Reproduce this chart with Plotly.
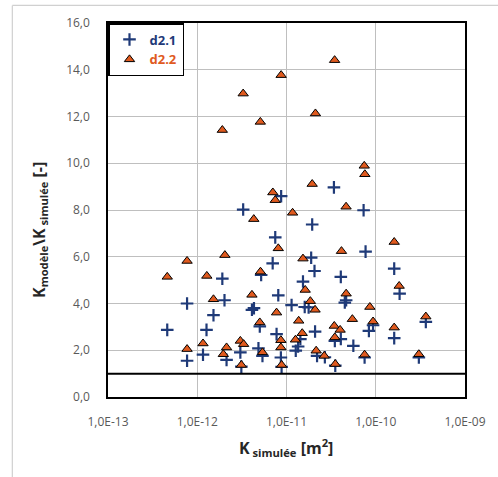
import plotly.graph_objects as go

# d2.1 (crosses)
k_d21 = [4.61e-13, 7.69e-13, 7.69e-13, 1.16e-12, 1.27e-12, 1.52e-12, 1.91e-12, 2.02e-12,
         2.13e-12, 3.04e-12, 3.12e-12, 4.10e-12, 4.32e-12, 5.02e-12, 4.85e-12, 5.20e-12,
         5.38e-12, 7.00e-12, 8.09e-12, 7.74e-12, 8.65e-12, 8.81e-12, 1.14e-11, 1.27e-11,
         1.35e-11, 1.43e-11, 1.53e-11, 1.60e-11, 1.77e-11, 1.89e-11, 2.06e-11, 2.09e-11,
         2.20e-11, 2.69e-11, 3.48e-11, 4.06e-11, 4.06e-11, 4.50e-11, 4.66e-11, 5.61e-11,
         7.69e-11, 7.50e-11, 8.38e-11, 9.33e-11, 1.61e-10, 1.61e-10, 1.85e-10, 3.04e-10,
         3.64e-10, 3.52e-11, 8.71e-12, 3.27e-12, 3.40e-11, 7.31e-11, 1.94e-11, 7.48e-12]
r_d21 = [2.87, 4.00, 1.55, 1.81, 2.87, 3.50, 5.06, 4.14,
         1.59, 1.91, 1.30, 3.73, 3.80, 3.02, 2.08, 5.22,
         1.76, 5.72, 4.35, 2.69, 1.69, 1.29, 3.93, 1.98,
         2.16, 2.48, 4.94, 3.85, 3.83, 5.96, 5.39, 2.80,
         1.76, 1.70, 2.40, 2.48, 5.14, 4.04, 4.14, 2.19,
         6.22, 1.69, 2.83, 3.07, 5.49, 2.52, 4.42, 1.69,
         3.21, 1.34, 8.59, 8.02, 8.97, 7.99, 7.38, 6.83]

# d2.2 (triangles)
k_d22 = [4.61e-13, 7.69e-13, 7.69e-13, 1.16e-12, 1.28e-12, 1.52e-12, 1.96e-12, 2.04e-12,
         2.13e-12, 3.04e-12, 3.31e-12, 3.12e-12, 4.10e-12, 5.02e-12, 5.11e-12, 5.38e-12,
         7.74e-12, 8.09e-12, 8.65e-12, 8.65e-12, 8.81e-12, 1.26e-11, 1.37e-11, 1.50e-11,
         1.53e-11, 1.62e-11, 1.85e-11, 2.09e-11, 2.15e-11, 2.65e-11, 3.43e-11, 3.48e-11,
         3.99e-11, 4.13e-11, 3.52e-11, 4.66e-11, 5.47e-11, 7.50e-11, 8.59e-11, 9.33e-11,
         1.61e-10, 1.61e-10, 1.83e-10, 3.04e-10, 3.64e-10, 3.46e-11, 8.71e-12, 3.27e-12,
         2.11e-11, 5.09e-12, 1.91e-12, 7.43e-11, 7.55e-11, 1.94e-11, 7.03e-12, 7.48e-12,
         4.65e-11, 1.17e-11, 4.30e-12]
r_d22 = [5.14, 5.82, 2.05, 2.29, 5.18, 4.18, 1.83, 6.07,
         2.12, 2.40, 2.26, 1.37, 4.37, 3.19, 5.36, 1.91,
         3.61, 6.36, 2.43, 2.12, 1.37, 2.45, 3.26, 2.73,
         5.92, 4.58, 4.10, 3.73, 1.98, 1.76, 3.04, 2.55,
         2.87, 6.24, 1.41, 4.42, 3.33, 1.81, 3.85, 3.23,
         6.63, 2.97, 4.75, 1.83, 3.44, 14.41, 13.77, 12.98,
         12.13, 11.77, 11.42, 9.89, 9.53, 9.11, 8.75, 8.42,
         8.14, 7.88, 7.61]

x_tickvals = [1e-13, 1e-12, 1e-11, 1e-10, 1e-9]
x_ticktext = ["1,0E-13", "1,0E-12", "1,0E-11", "1,0E-10", "1,0E-09"]
y_tickvals = [0, 2, 4, 6, 8, 10, 12, 14, 16]
y_ticktext = ["0,0", "2,0", "4,0", "6,0", "8,0", "10,0", "12,0", "14,0", "16,0"]

blue = "#1F3A78"
orange = "#E05A1E"
font = "Open Sans"

fig = go.Figure()
fig.add_trace(go.Scatter(
    x=k_d21, y=r_d21, mode="markers",
    name='<b><span style="color:%s">d2.1</span></b>' % blue,
    marker=dict(symbol="cross-thin", size=9, line=dict(color=blue, width=2.2), color=blue),
))
fig.add_trace(go.Scatter(
    x=k_d22, y=r_d22, mode="markers",
    name='<b><span style="color:%s">d2.2</span></b>' % orange,
    marker=dict(symbol="triangle-up", size=9, color=orange, line=dict(color="black", width=1)),
))

fig.add_shape(type="line", xref="paper", yref="y", x0=0, x1=1, y0=1, y1=1,
              line=dict(color="black", width=2))
# light outer frame
fig.add_shape(type="line", xref="paper", yref="paper", x0=-0.268, x1=1.2, y0=1.047, y1=1.047,
              line=dict(color="#D0D0D0", width=1.2))
fig.add_shape(type="line", xref="paper", yref="paper", x0=-0.268, x1=-0.268, y0=1.047, y1=-0.3,
              line=dict(color="#D0D0D0", width=1.2))

fig.add_annotation(xref="paper", yref="paper", x=-0.194, y=0.446, textangle=-90,
                   showarrow=False, xanchor="center", yanchor="middle",
                   text="<b>K<sub>modèle</sub>\\K<sub> simulée</sub> [-]</b>",
                   font=dict(family=font, size=16, color="#262626"))
fig.add_annotation(xref="paper", yref="paper", x=0.499, y=-0.134,
                   showarrow=False, xanchor="center", yanchor="middle",
                   text="<b>K<sub> simulée</sub> [m<sup>2</sup>]</b>",
                   font=dict(family=font, size=16, color="#262626"))

fig.update_layout(
    width=498, height=477,
    margin=dict(l=108, r=30, t=23, b=80),
    paper_bgcolor="white", plot_bgcolor="white",
    font=dict(family=font, size=12, color="#595959"),
    showlegend=True,
    legend=dict(x=0, y=1, xanchor="left", yanchor="top", bgcolor="white",
                bordercolor="black", borderwidth=1.5, font=dict(size=13, family=font),
                tracegroupgap=0, itemwidth=30),
)
fig.update_xaxes(type="log", range=[-13, -9], tickvals=x_tickvals, ticktext=x_ticktext,
                 showgrid=True, gridcolor="#BFBFBF", gridwidth=1,
                 showline=True, mirror=True, linecolor="black", linewidth=1.5,
                 ticks="", ticklabelstandoff=13, zeroline=False)
fig.update_yaxes(range=[0, 16], tickvals=y_tickvals, ticktext=y_ticktext,
                 showgrid=True, gridcolor="#BFBFBF", gridwidth=1,
                 showline=True, mirror=True, linecolor="black", linewidth=1.5,
                 ticks="", ticklabelstandoff=14, zeroline=False)

fig.write_html("out.html", config={"displayModeBar": False},
               post_script="document.body.style.margin='0';document.body.style.padding='0';")
